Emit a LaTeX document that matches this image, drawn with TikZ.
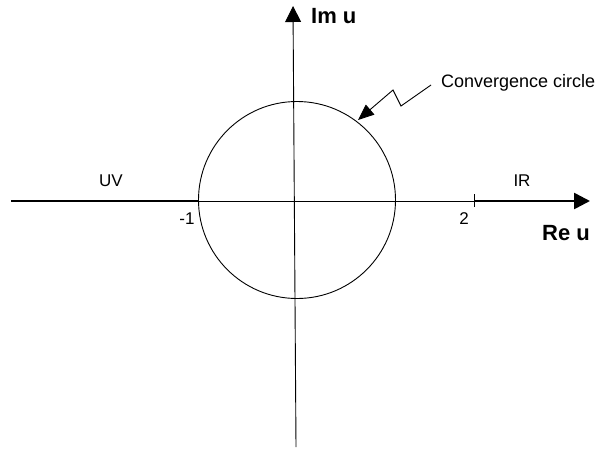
\documentclass[tikz,border=0pt]{standalone}
\usepackage{fontspec}
\setmainfont{Liberation Sans}
\usetikzlibrary{arrows.meta}
\begin{document}
\begin{tikzpicture}[x=1pt,y=-1pt,
  axis/.style={line width=0.9pt},
  thickline/.style={line width=2.6pt},
  bigtip/.style={-{Triangle[length=16pt,width=16pt]}},
  lbl/.style={font=\fontsize{17}{17}\selectfont, inner sep=0pt},
  axlbl/.style={font=\fontsize{22}{22}\selectfont\bfseries, inner sep=0pt}]
\useasboundingbox (0,0) rectangle (602,448);
% coordinates
\coordinate (xl) at (11,201);
\coordinate (xm1) at (198,201);
\coordinate (x2) at (474,201);
\coordinate (xr) at (590,201);
\coordinate (yb) at (296,447);
\coordinate (yt) at (293,6);
\coordinate (c) at (297,200);
% circle
\draw[axis] (c) circle[radius=98.5];
% axes
\draw[axis] (xl) -- (x2);
\draw[axis, bigtip] (yb) -- (yt);
\draw[thickline] (xl) -- (xm1);
\draw[thickline, bigtip] (x2) -- (xr);
\draw[axis] ([yshift=-6]x2) -- ([yshift=7]x2);
% labels
\node[lbl] (uv) at (111,181) {UV};
\node[lbl] (ir) at (522,181) {IR};
\node[lbl] (m1) at (187,219) {-1};
\node[lbl] (two) at (464,219) {2};
\node[axlbl, anchor=west] (im) at (311,16) {Im u};
\node[axlbl] (re) at (566,233) {Re u};
\node[lbl, anchor=west, font=\fontsize{18}{18}\selectfont] (cc) at (441,83) {Convergence circle};
% zigzag pointer
\coordinate (z0) at (431,85);
\coordinate (z1) at (401,106);
\coordinate (z2) at (393,90);
\coordinate (z3) at (358,120);
\draw[axis, -{Triangle[length=16pt,width=13pt]}] (z0) -- (z1) -- (z2) -- (z3);
\end{tikzpicture}
\end{document}
